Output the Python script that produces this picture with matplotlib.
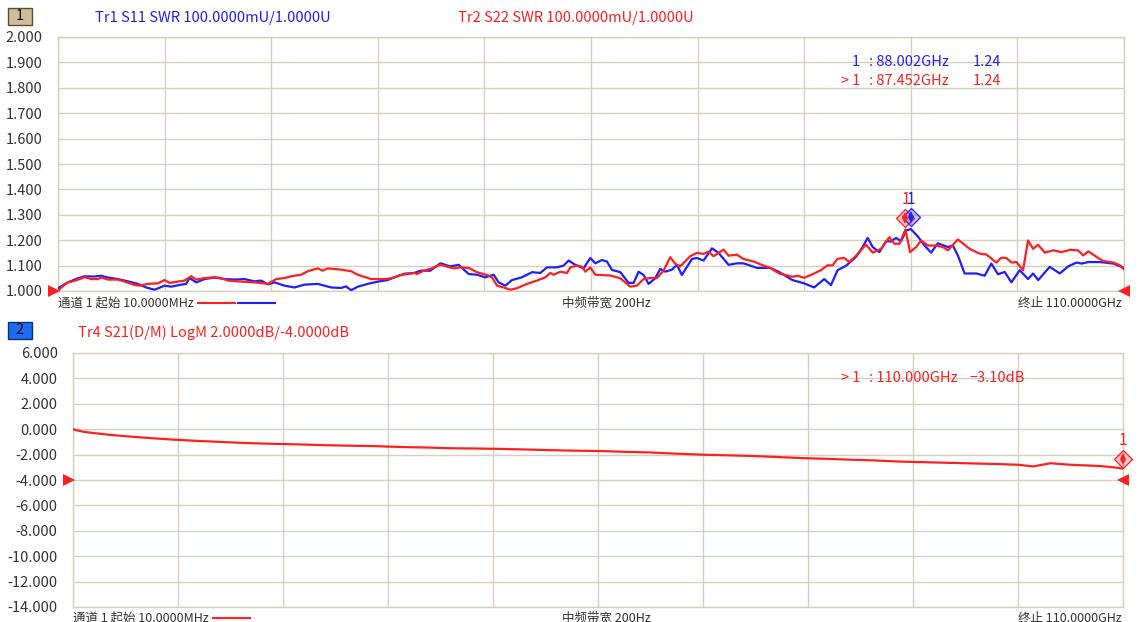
import matplotlib.pyplot as plt
import matplotlib.transforms as mtransforms
from matplotlib.patches import Rectangle
from matplotlib.lines import Line2D

plt.rcParams['font.family'] = ['Noto Sans CJK SC', 'DejaVu Sans']

# Tr1 S11 SWR (blue), frequency in GHz
s11_freq = [0.01, 1.03, 2.06, 2.75, 3.78, 4.47, 5.16, 6.19, 7.22, 8.25, 9.11, 9.97,
            11.0, 11.69, 12.72, 13.23, 13.58, 14.27, 15.13, 16.16, 17.19, 18.22, 19.25,
            20.28, 20.97, 21.66, 22.34, 23.38, 24.41, 25.44, 26.81, 28.19, 29.22, 29.73,
            30.25, 30.94, 31.97, 33.0, 34.03, 34.72, 35.75, 36.78,
            37.40, 38.43, 39.46, 40.49, 41.35, 42.38, 43.24, 44.10, 44.96, 45.48, 46.17,
            46.85, 47.88, 48.92, 49.78, 50.46, 51.49, 52.18, 52.70, 53.38, 54.24, 54.93,
            55.45, 56.13, 56.65, 57.17, 58.03, 58.88, 59.40, 59.92, 60.43, 60.95, 61.63,
            62.15, 62.67, 63.35, 63.87, 64.38, 65.42, 65.93, 66.62, 67.48, 68.17, 69.20,
            70.06, 70.74, 72.12, 73.49,
            74.41, 75.79, 77.0, 78.03, 79.07, 79.76, 80.45, 81.31, 82.34, 83.03, 83.55,
            84.07, 84.76, 85.45, 85.96, 86.48, 87.0, 87.52, 88.0, 88.79, 89.41, 90.10,
            90.79, 91.83, 92.34, 92.86, 93.55, 94.76, 95.62, 96.31, 97.0, 97.69, 98.38,
            99.24, 100.10, 100.62, 101.14, 102.34, 103.38, 104.24, 105.10, 105.62, 106.31,
            107.52, 108.89, 110.0]
s11_swr = [1.011, 1.034, 1.05, 1.058, 1.057, 1.06, 1.053, 1.047, 1.038, 1.028, 1.014, 1.005,
           1.021, 1.017, 1.025, 1.028, 1.051, 1.034, 1.047, 1.053, 1.047, 1.045, 1.047,
           1.038, 1.041, 1.026, 1.034, 1.021, 1.014, 1.025, 1.028, 1.014, 1.012, 1.018,
           1.003, 1.017, 1.028, 1.037, 1.043, 1.054, 1.068, 1.071,
           1.08, 1.08, 1.109, 1.097, 1.103, 1.067, 1.064, 1.054, 1.064, 1.034, 1.021,
           1.043, 1.054, 1.074, 1.071, 1.093, 1.093, 1.1, 1.12, 1.103, 1.089, 1.13,
           1.109, 1.122, 1.116, 1.083, 1.074, 1.032, 1.032, 1.076, 1.063, 1.028, 1.05,
           1.087, 1.076, 1.084, 1.103, 1.063, 1.126, 1.13, 1.12, 1.168, 1.15, 1.103,
           1.109, 1.109, 1.091, 1.091,
           1.075, 1.043, 1.03, 1.014, 1.047, 1.023, 1.082, 1.099, 1.134, 1.173, 1.209,
           1.173, 1.153, 1.196, 1.195, 1.209, 1.196, 1.238, 1.244, 1.212, 1.179, 1.151,
           1.188, 1.173, 1.179, 1.14, 1.069, 1.069, 1.06, 1.108, 1.066, 1.075, 1.034,
           1.082, 1.047, 1.069, 1.043, 1.095, 1.069, 1.097, 1.112, 1.108, 1.114,
           1.114, 1.108, 1.091]

# Tr2 S22 SWR (red)
s22_freq = [0.01, 0.34, 1.03, 1.72, 2.75, 3.44, 4.13, 4.47, 5.16, 6.19, 6.88, 7.91, 8.42,
            9.28, 10.31, 11.0, 11.52, 12.38, 13.06, 13.75, 14.27, 15.13, 16.16, 16.84,
            17.53, 18.91, 20.28, 21.66, 22.52, 23.38, 24.06, 25.09, 25.78, 26.81, 27.33,
            27.84, 29.22, 30.25, 30.94, 32.31, 33.69, 34.38, 35.41, 36.78,
            37.06, 37.74, 38.43, 39.46, 40.15, 40.84, 41.53, 42.38, 43.24, 44.28, 44.79,
            45.31, 45.99, 46.68, 47.37, 48.40, 49.43, 50.29, 50.81, 51.15, 51.84, 52.53,
            52.87, 53.56, 54.07, 54.42, 54.93, 55.45, 56.99, 58.03, 59.06, 59.74, 60.43,
            61.12, 61.81, 62.49, 63.18, 63.70, 64.21, 65.24, 65.93, 66.62, 67.13, 67.65,
            68.68, 69.20, 70.06, 70.74, 71.78, 72.81, 73.49,
            74.41, 75.79, 76.31, 77.0, 77.86, 78.72, 79.41, 79.93, 80.45, 81.14, 81.65,
            82.34, 83.38, 84.07, 84.93, 85.79, 86.31, 86.83, 87.45, 87.93, 88.55, 89.07,
            89.76, 90.62, 91.31, 91.83, 92.86, 94.07, 95.10, 95.79, 96.83, 97.34, 97.86,
            98.38, 98.90, 99.58, 100.10, 100.62, 101.14, 101.83, 102.69, 103.55, 104.41,
            105.27, 105.79, 106.31, 107.17, 107.86, 108.89, 109.58, 110.0]
s22_swr = [1.0, 1.014, 1.034, 1.04, 1.054, 1.047, 1.047, 1.053, 1.045, 1.045, 1.037, 1.024,
           1.021, 1.028, 1.03, 1.043, 1.032, 1.037, 1.041, 1.058, 1.045, 1.051, 1.054,
           1.051, 1.041, 1.037, 1.034, 1.028, 1.047, 1.051, 1.058, 1.064, 1.078, 1.089,
           1.08, 1.089, 1.084, 1.078, 1.064, 1.047, 1.047, 1.05, 1.063, 1.071,
           1.067, 1.08, 1.087, 1.104, 1.096, 1.089, 1.093, 1.091, 1.074, 1.063, 1.054,
           1.021, 1.014, 1.005, 1.011, 1.028, 1.041, 1.054, 1.071, 1.064, 1.076, 1.071,
           1.093, 1.1, 1.096, 1.076, 1.093, 1.064, 1.061, 1.05, 1.017, 1.021, 1.047,
           1.051, 1.051, 1.08, 1.133, 1.107, 1.097, 1.137, 1.15, 1.146, 1.155, 1.137,
           1.163, 1.139, 1.143, 1.126, 1.116, 1.1, 1.091,
           1.069, 1.056, 1.06, 1.052, 1.066, 1.082, 1.101, 1.101, 1.127, 1.13, 1.114,
           1.138, 1.183, 1.151, 1.166, 1.212, 1.186, 1.186, 1.242, 1.153, 1.173, 1.199,
           1.179, 1.179, 1.173, 1.16, 1.203, 1.166, 1.147, 1.144, 1.112, 1.131, 1.13,
           1.112, 1.114, 1.082, 1.199, 1.166, 1.182, 1.151, 1.16, 1.153, 1.162,
           1.16, 1.14, 1.156, 1.134, 1.118, 1.112, 1.101, 1.085]

# Tr4 S21 LogM (red), dB
s21_freq = [0.01, 0.6, 1.26, 2.5, 3.88, 6.0, 8.07, 10.5, 13.3, 16.0, 18.5, 21.0, 23.8, 26.5,
            29.0, 31.5, 34.3, 37.0, 39.5, 42.0, 44.7, 47.5, 50.0, 52.5, 55.2, 57.8, 60.4,
            63.0, 65.7, 68.3, 70.9, 73.5, 76.2, 78.8, 81.4, 84.0, 86.6, 89.2, 91.9, 94.5,
            97.1, 99.0, 100.6, 102.4, 104.5, 107.6, 109.0, 110.0]
s21_db = [0.0, -0.12, -0.22, -0.33, -0.45, -0.58, -0.7, -0.82, -0.93, -1.02, -1.1, -1.15,
          -1.2, -1.26, -1.3, -1.33, -1.4, -1.44, -1.5, -1.52, -1.55, -1.6, -1.65, -1.69,
          -1.72, -1.78, -1.83, -1.92, -2.0, -2.05, -2.1, -2.18, -2.27, -2.33, -2.4,
          -2.46, -2.55, -2.6, -2.65, -2.7, -2.75, -2.8, -2.93, -2.68, -2.8, -2.9,
          -3.0, -3.1]

swr_ticks = [1.0, 1.1, 1.2, 1.3, 1.4, 1.5, 1.6, 1.7, 1.8, 1.9, 2.0]
db_ticks = [6, 4, 2, 0, -2, -4, -6, -8, -10, -12, -14]
freq_grid = [0.01, 11.0, 22.0, 33.0, 44.0, 55.0, 66.0, 77.0, 88.0, 99.0, 110.0]

BLUE = '#1f1fff'
RED = '#ff1f1f'
GRID = '#d8cfbf'
TXT = '#333333'
W, H = 1146, 622


def fp(x, y):
    return x / W, 1 - y / H


fig = plt.figure(figsize=(W / 100, H / 100), dpi=100)
ax1 = fig.add_axes([58 / W, 1 - 291 / H, 1066 / W, 254 / H])
ax2 = fig.add_axes([73 / W, 1 - 607 / H, 1050 / W, 254 / H])

for ax, ticks, lim in [(ax1, swr_ticks, (1.0, 2.0)), (ax2, db_ticks, (-14, 6))]:
    ax.set_xlim(0.01, 110)
    ax.set_ylim(*lim)
    ax.set_xticks(freq_grid)
    ax.set_yticks(ticks)
    ax.set_yticklabels(['%.3f' % t for t in ticks])
    ax.grid(True, color=GRID, lw=1)
    ax.tick_params(axis='x', length=0, labelbottom=False)
    ax.tick_params(axis='y', length=0, pad=11, labelsize=10.5, labelcolor=TXT)
    for s in ax.spines.values():
        s.set_color(GRID)
        s.set_linewidth(1)

ax1.plot(s11_freq, s11_swr, color=BLUE, lw=1.6, zorder=3)
ax1.plot(s22_freq, s22_swr, color=RED, lw=1.6, zorder=4)
ax2.plot(s21_freq, s21_db, color=RED, lw=1.6, zorder=3)


def marker(ax, f, v, color, dy):
    tr = mtransforms.offset_copy(ax.transData, fig=fig, x=0, y=dy, units='dots')
    ax.plot(f, v, marker='D', ms=9, mfc=color, mec=color, alpha=0.25, transform=tr, clip_on=False, zorder=5)
    ax.plot(f, v, marker='D', ms=9, mfc='none', mec=color, mew=0.8, transform=tr, clip_on=False, zorder=5)
    tr_up = mtransforms.offset_copy(ax.transData, fig=fig, x=0, y=dy + 3, units='dots')
    tr_dn = mtransforms.offset_copy(ax.transData, fig=fig, x=0, y=dy - 3, units='dots')
    ax.plot(f, v, marker='^', ms=5, color=color, mew=0, transform=tr_up, clip_on=False, zorder=6)
    ax.plot(f, v, marker='v', ms=5, color=color, mew=0, transform=tr_dn, clip_on=False, zorder=6)
    ax.annotate('1', (f, v), xytext=(0, dy + 18), textcoords='offset pixels', ha='center',
                va='center', color=color, fontsize=11, annotation_clip=False, zorder=6)


marker(ax1, 87.452, 1.242, RED, 12)
marker(ax1, 88.002, 1.244, BLUE, 12)
marker(ax2, 110.0, -3.10, RED, 10)

# reference level triangles
b1 = mtransforms.blended_transform_factory(ax1.transAxes, ax1.transData)
ax1.plot(-0.0038, 1.0, marker='>', ms=8, color=RED, mew=0, transform=b1, clip_on=False, zorder=6)
ax1.plot(1.0, 1.0, marker='<', ms=8, color=RED, mew=0, transform=b1, clip_on=False, zorder=6)
b2 = mtransforms.blended_transform_factory(ax2.transAxes, ax2.transData)
ax2.plot(-0.0038, -4.0, marker='>', ms=8, color=RED, mew=0, transform=b2, clip_on=False, zorder=6)
ax2.plot(1.0, -4.0, marker='<', ms=8, color=RED, mew=0, transform=b2, clip_on=False, zorder=6)

# channel boxes and trace titles
for y0, label, fc, ec in [(8, '1', '#cdbd9d', '#5c4c30'), (322, '2', '#1c6cf0', '#10306a')]:
    x, y = fp(8, y0 + 17)
    fig.add_artist(Rectangle((x, y), 24 / W, 17 / H, transform=fig.transFigure,
                             facecolor=fc, edgecolor=ec, lw=1))
    fig.text(*fp(20, y0 + 8.5), label, ha='center', va='center', fontsize=10.5, color='#111111')

fig.text(*fp(95, 18), 'Tr1 S11 SWR 100.0000mU/1.0000U', color=BLUE, fontsize=10.5, va='center')
fig.text(*fp(458, 18), 'Tr2 S22 SWR 100.0000mU/1.0000U', color=RED, fontsize=10.5, va='center')
fig.text(*fp(78, 333), 'Tr4 S21(D/M) LogM 2.0000dB/-4.0000dB', color=RED, fontsize=10.5, va='center')

# marker readouts
fig.text(*fp(860, 62), '1', color=BLUE, fontsize=10.5, va='center', ha='right')
fig.text(*fp(869, 62), ': 88.002GHz', color=BLUE, fontsize=10.5, va='center')
fig.text(*fp(973, 62), '1.24', color=BLUE, fontsize=10.5, va='center')
fig.text(*fp(860, 81), '> 1', color=RED, fontsize=10.5, va='center', ha='right')
fig.text(*fp(869, 81), ': 87.452GHz', color=RED, fontsize=10.5, va='center')
fig.text(*fp(973, 81), '1.24', color=RED, fontsize=10.5, va='center')
fig.text(*fp(860, 378), '> 1', color=RED, fontsize=10.5, va='center', ha='right')
fig.text(*fp(869, 378), ': 110.000GHz', color=RED, fontsize=10.5, va='center')
fig.text(*fp(970, 378), '\u22123.10dB', color=RED, fontsize=10.5, va='center')

# footer lines of each panel
for y, x0, lines in [(303, 58, [(198, 235, RED), (238, 275, BLUE)]), (618, 73, [(213, 250, RED)])]:
    fig.text(*fp(x0, y), '通道 1 起始 10.0000MHz', color=TXT, fontsize=9, va='center')
    fig.text(*fp(606, y), '中频带宽 200Hz', color=TXT, fontsize=9, va='center', ha='center')
    fig.text(*fp(1122, y), '终止 110.0000GHz', color=TXT, fontsize=9, va='center', ha='right')
    for a, b, c in lines:
        fig.add_artist(Line2D([a / W, b / W], [1 - y / H, 1 - y / H], color=c, lw=1.5,
                              transform=fig.transFigure))

fig.savefig('out.png', dpi=100)
